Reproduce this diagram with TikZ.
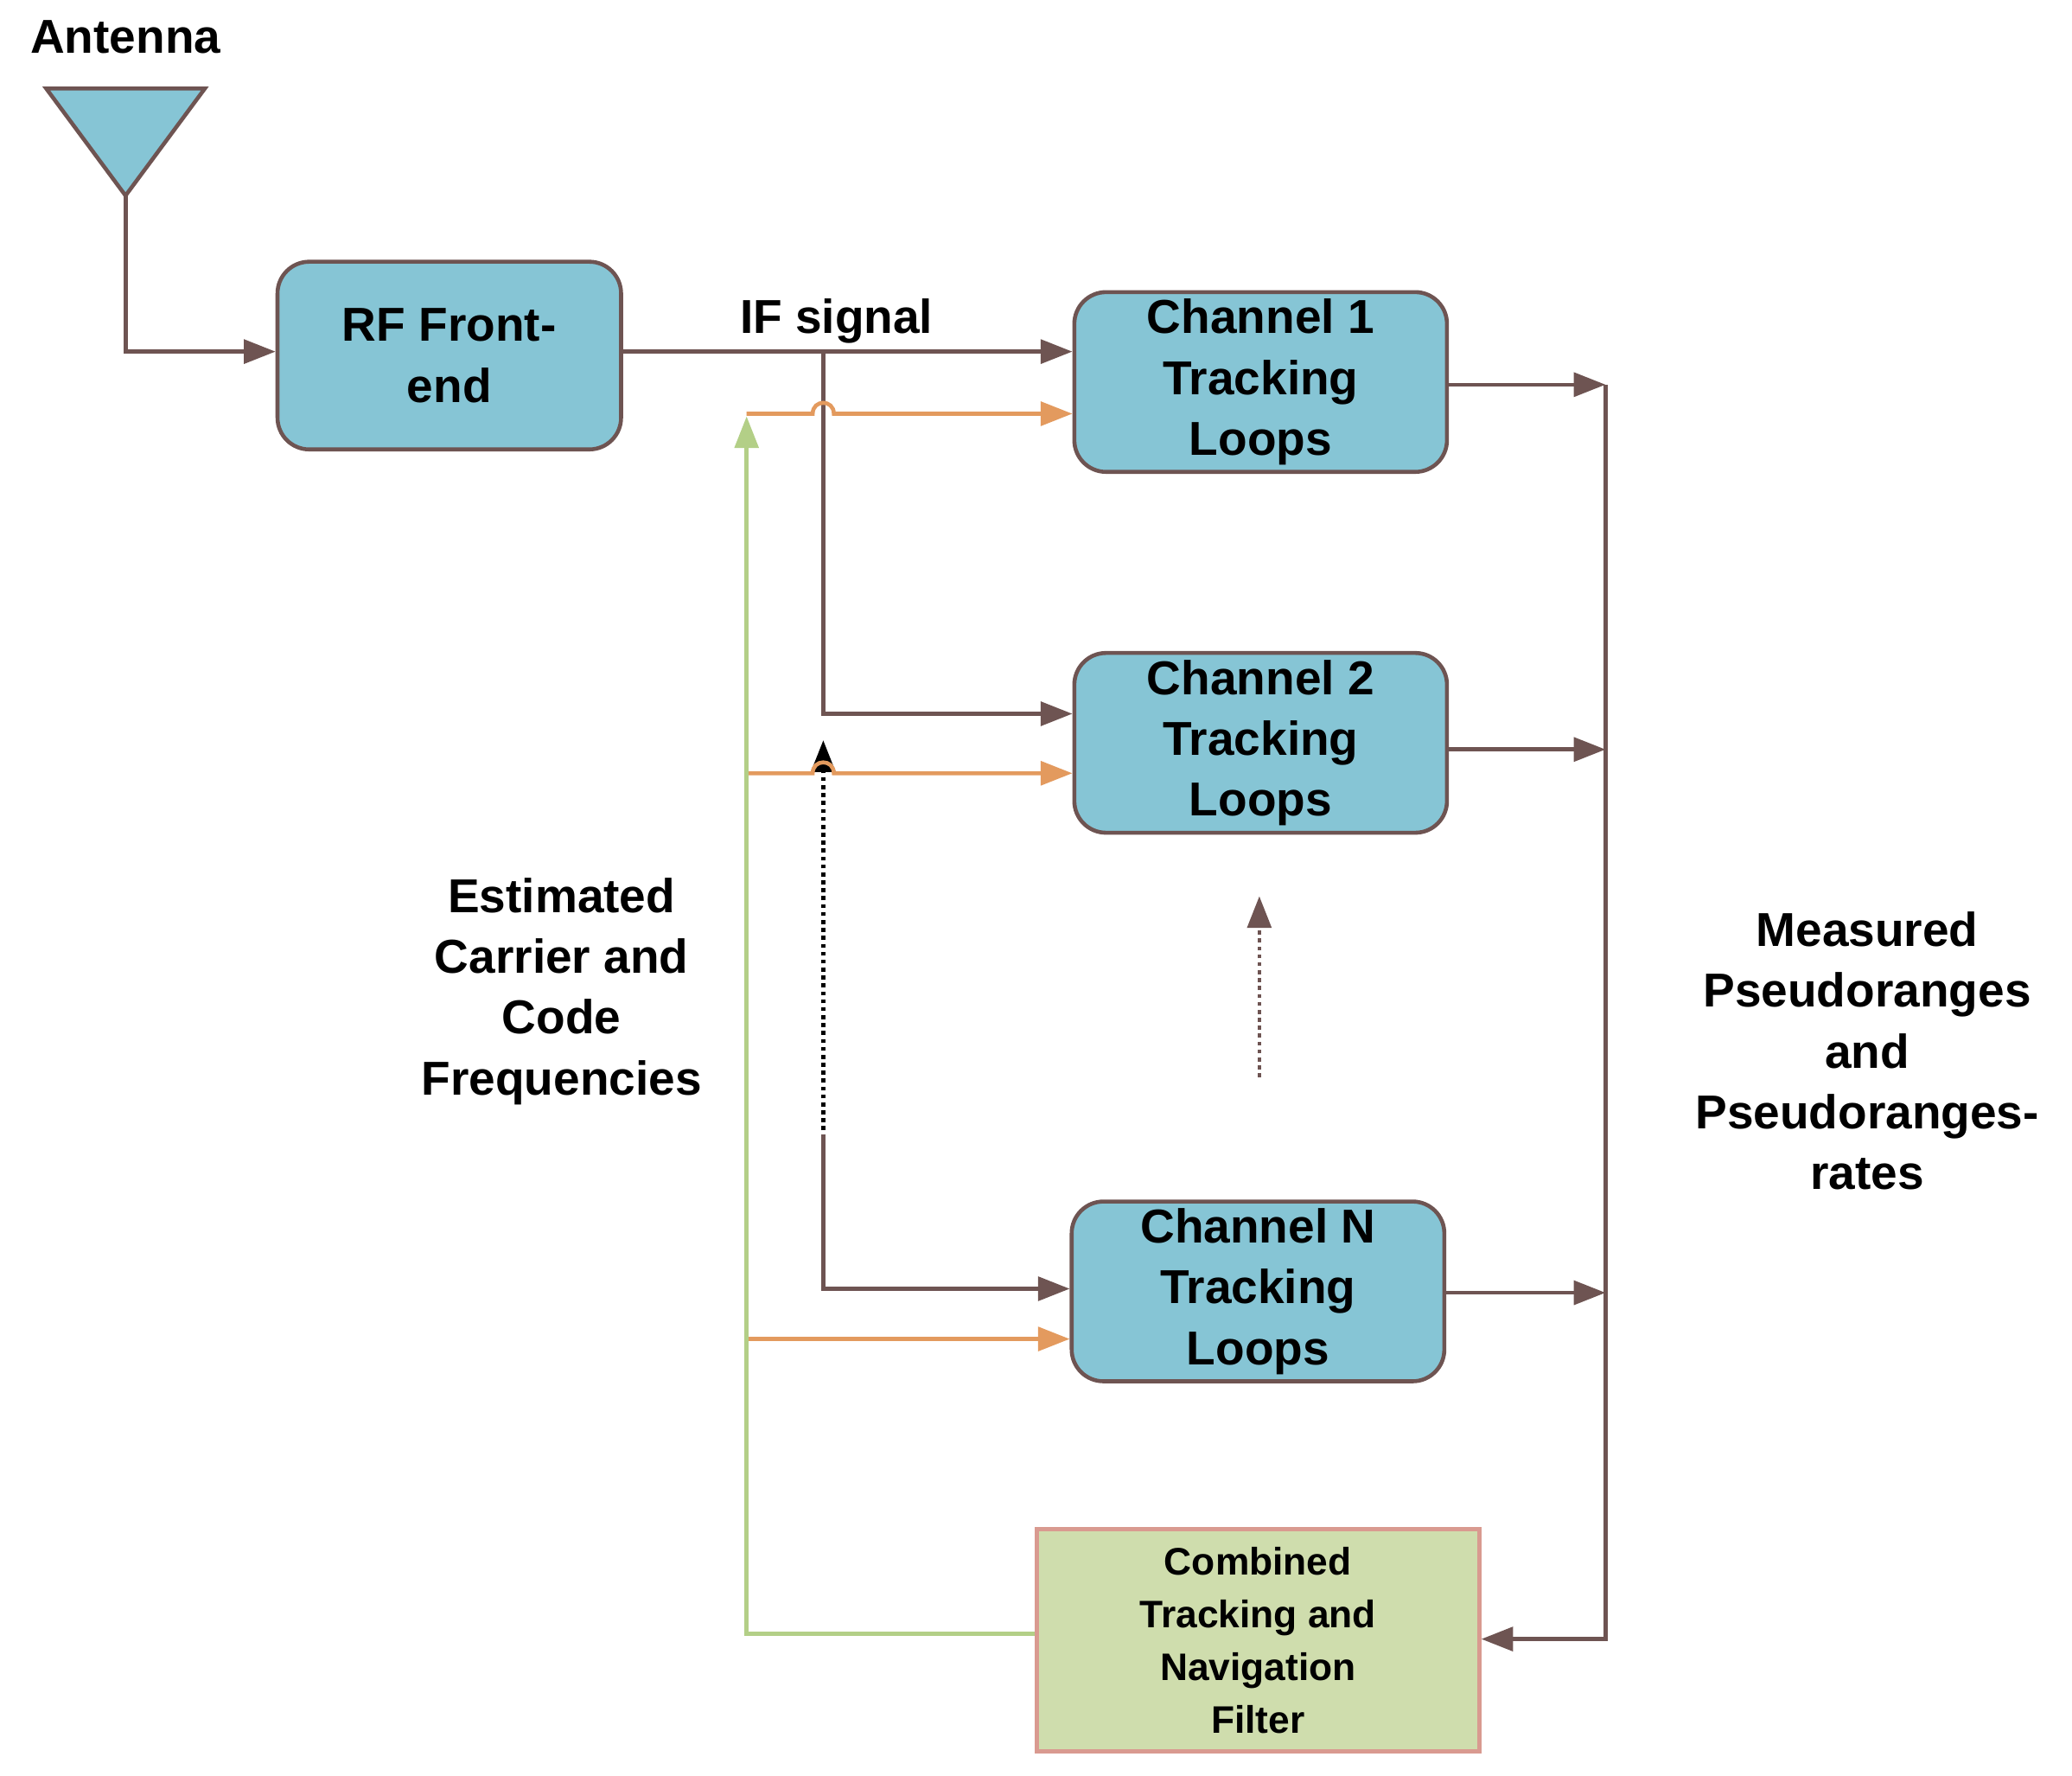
\documentclass[tikz,border=0pt]{standalone}
\usepackage{fontspec}
\setmainfont{Liberation Sans}
\usetikzlibrary{arrows.meta}
\definecolor{brn}{HTML}{6E5452}
\definecolor{box}{HTML}{86C5D5}
\definecolor{org}{HTML}{E39A5E}
\definecolor{grn}{HTML}{B3CF87}
\definecolor{flt}{HTML}{CFDDAD}
\definecolor{pnk}{HTML}{D99A90}
\begin{document}
\begin{tikzpicture}[x=1pt,y=-1pt,
  tip/.style={-{Triangle[length=24pt,width=18pt]}},
  ln/.style={line width=3pt},
  chan/.style={draw=brn,line width=3pt,fill=box,rounded corners=24pt,minimum width=282pt,minimum height=136pt,align=center,font=\fontsize{36}{46}\selectfont\bfseries,inner sep=0pt},
  lbl/.style={align=center,font=\fontsize{36}{46}\selectfont\bfseries}]
\useasboundingbox (0,0) rectangle (1568,1343);
\node[lbl] (antl) at (95,28) {Antenna};
\draw[draw=brn,line width=3pt,fill=box] (35,67) -- (155,67) -- (95,148) -- cycle;
\coordinate (ant) at (95,148);
\node[chan,minimum width=260pt,minimum height=142pt] (rf) at (340,269) {RF Front-\\end};
\node[chan] (c1) at (954,289) {Channel 1\\Tracking\\Loops};
\node[chan] (c2) at (954,562) {Channel 2\\Tracking\\Loops};
\node[chan] (cn) at (952,977) {Channel N\\Tracking\\Loops};
\node[draw=pnk,line width=3pt,fill=flt,minimum width=335pt,minimum height=168pt,align=center,font=\fontsize{29}{40}\selectfont\bfseries,inner sep=0pt] (f) at (952,1241) {Combined\\Tracking and\\Navigation\\Filter};
\node[lbl] (ifl) at (633,243) {IF signal};
\node[lbl] (est) at (425,750) {Estimated\\Carrier and\\Code\\Frequencies};
\node[lbl] (meas) at (1413,795) {Measured\\Pseudoranges\\and\\Pseudoranges-\\rates};
% antenna to RF
\draw[ln,brn,tip] (ant) |- (rf.west|-0,266);
% IF signal
\draw[ln,brn,tip] (rf.east|-0,266) -- (c1.west|-0,266);
\draw[ln,brn,tip] (623,266) |- (c2.west|-0,540);
\coordinate (dn) at (623,858);
\draw[ln,brn,tip] (dn) |- (cn.west|-0,975);
\draw[line width=3pt,black,dashed,tip] (623,855) -- (623,560);
% orange
\draw[ln,org,tip] (565,313) -- (615,313) .. controls (615,302) and (631,302) .. (631,313) -- (c1.west|-0,313);
\draw[ln,org,tip] (565,585) -- (615,585) .. controls (615,574) and (631,574) .. (631,585) -- (c2.west|-0,585);
\draw[ln,org,tip] (565,1013) -- (cn.west|-0,1013);
% green feedback
\draw[ln,grn,tip] (f.west|-0,1236) -| (565,315);
% outputs
\draw[ln,brn,tip] (c1.east|-0,291) -- (1215,291);
\draw[ln,brn,tip] (c2.east|-0,567) -- (1215,567);
\draw[ln,brn,tip] (cn.east|-0,978) -- (1215,978);
\draw[ln,brn,tip] (1215,291) |- (f.east|-0,1240);
% dots arrow
\draw[ln,brn,dashed,tip] (953,815) -- (953,678);
\end{tikzpicture}
\end{document}
